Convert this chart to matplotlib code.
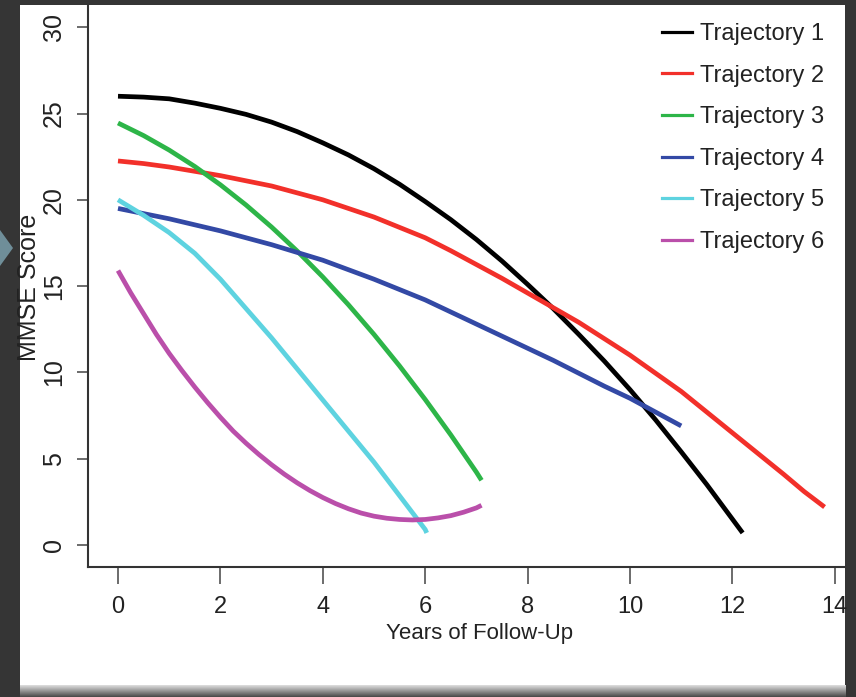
import matplotlib
matplotlib.use("Agg")
import matplotlib.pyplot as plt
import numpy as np
from matplotlib.patches import Rectangle, Polygon

# values
traj1_x = [0, 0.5, 1, 1.5, 2, 2.5, 3, 3.5, 4, 4.5, 5, 5.5, 6, 6.5, 7, 7.5, 8, 8.5, 9, 9.5, 10, 10.5, 11, 11.5, 12, 12.2]
traj1_y = [26.0, 25.95, 25.85, 25.6, 25.3, 24.95, 24.5, 23.95, 23.3, 22.6, 21.8, 20.9, 19.9, 18.85, 17.7, 16.45,
           15.1, 13.7, 12.2, 10.65, 9.0, 7.25, 5.4, 3.5, 1.5, 0.7]

traj2_x = [0, 0.5, 1, 1.5, 2, 2.5, 3, 3.5, 4, 4.5, 5, 5.5, 6, 6.5, 7, 7.5, 8, 8.5, 9, 9.5, 10, 10.5, 11,
           11.5, 12, 12.5, 13, 13.4, 13.8]
traj2_y = [22.25, 22.1, 21.9, 21.65, 21.4, 21.1, 20.8, 20.4, 20.0, 19.5, 19.0, 18.4, 17.8, 17.05, 16.25, 15.45,
           14.6, 13.75, 12.9, 11.95, 11.0, 9.95, 8.9, 7.7, 6.5, 5.3, 4.1, 3.1, 2.2]

traj3_x = [0, 0.5, 1, 1.5, 2, 2.5, 3, 3.5, 4, 4.5, 5, 5.5, 6, 6.5, 7, 7.1]
traj3_y = [24.45, 23.72, 22.88, 21.93, 20.87, 19.7, 18.42, 17.03, 15.53, 13.92, 12.2, 10.37, 8.43, 6.38, 4.22, 3.75]

traj4_x = [0, 0.5, 1, 1.5, 2, 2.5, 3, 3.5, 4, 4.5, 5, 5.5, 6, 6.5, 7, 7.5, 8, 8.5, 9, 9.5, 10, 10.5, 11]
traj4_y = [19.5, 19.2, 18.9, 18.55, 18.2, 17.8, 17.4, 16.95, 16.5, 15.95, 15.4, 14.8, 14.2, 13.5, 12.8, 12.1,
           11.4, 10.7, 9.95, 9.2, 8.5, 7.7, 6.9]

traj5_x = [0, 0.5, 1, 1.5, 2, 2.5, 3, 3.5, 4, 4.5, 5, 5.5, 6, 6.03]
traj5_y = [20.0, 19.1, 18.1, 16.9, 15.4, 13.7, 12.0, 10.2, 8.4, 6.6, 4.8, 2.85, 0.9, 0.7]

traj6_x = [0, 0.25, 0.5, 0.75, 1, 1.25, 1.5, 1.75, 2, 2.25, 2.5, 2.75, 3, 3.25, 3.5, 3.75, 4, 4.25, 4.5, 4.75,
           5, 5.25, 5.5, 5.75, 6, 6.25, 6.5, 6.75, 7, 7.1]
traj6_y = [15.9, 14.6, 13.4, 12.2, 11.1, 10.1, 9.15, 8.25, 7.4, 6.6, 5.9, 5.25, 4.65, 4.1, 3.6, 3.15, 2.75, 2.4,
           2.1, 1.85, 1.67, 1.55, 1.48, 1.45, 1.48, 1.57, 1.7, 1.9, 2.15, 2.3]

labels = ["Trajectory 1", "Trajectory 2", "Trajectory 3", "Trajectory 4", "Trajectory 5", "Trajectory 6"]
colors = ["#000000", "#F2302A", "#2DB548", "#3349A5", "#5ED3E0", "#BA4FAA"]

x_ticks = [0, 2, 4, 6, 8, 10, 12, 14]
y_ticks = [0, 5, 10, 15, 20, 25, 30]

W, H = 856, 697
FONT = ["Liberation Sans", "DejaVu Sans"]
TXT = "#222222"


def px(x, y):
    """Pixel position (from top-left) to figure fraction."""
    return x / W, 1 - y / H


fig = plt.figure(figsize=(W / 100, H / 100), dpi=100, facecolor="#353535")

# white panel, bottom shading and the little arrow on the left
fig.patches.append(Rectangle(px(20, 685), 825 / W, 680 / H, transform=fig.transFigure,
                             facecolor="white", edgecolor="none", zorder=-5))
grad_ax = fig.add_axes([20 / W, 0, 826 / W, 12 / H], zorder=-4)
grad_ax.imshow(np.linspace(0.85, 0.3, 12).reshape(-1, 1), cmap="gray", vmin=0, vmax=1,
               aspect="auto", extent=(0, 1, 0, 1))
grad_ax.axis("off")
fig.patches.append(Polygon([px(0, 230), px(13, 248), px(0, 266)], closed=True, transform=fig.transFigure,
                           facecolor="#6f8e99", edgecolor="none", zorder=-3))

left, right, top, bottom = 88, 845, 5, 567
ax = fig.add_axes([left / W, 1 - bottom / H, (right - left) / W, (bottom - top) / H])
ax.patch.set_alpha(0)

series = [(traj1_x, traj1_y), (traj2_x, traj2_y), (traj3_x, traj3_y),
          (traj4_x, traj4_y), (traj5_x, traj5_y), (traj6_x, traj6_y)]
handles = []
for (xs, ys), color, label in zip(series, colors, labels):
    ax.plot(xs, ys, color=color, lw=3.4, solid_capstyle="butt", solid_joinstyle="round", label=label)
    handles.append(plt.Line2D([], [], color=color, lw=2.3, label=label))

# pixel mapping: x 0 -> 118, 51.2 px/year ; y 0 -> 545, 17.26 px/unit
ax.set_xlim((left - 118) / 51.2, (right - 118) / 51.2)
ax.set_ylim((545 - bottom) / 17.26, (545 - top) / 17.26)

for side in ["top", "right"]:
    ax.spines[side].set_visible(False)
for side in ["left", "bottom"]:
    ax.spines[side].set_color("#333333")
    ax.spines[side].set_linewidth(1.5)

ax.set_xticks(x_ticks)
ax.set_yticks(y_ticks)
ax.tick_params(axis="x", length=12, width=1.1, color="#444444", pad=9, labelsize=17, labelcolor=TXT)
ax.tick_params(axis="y", length=8, width=1.1, color="#444444", pad=8, labelsize=18, labelcolor=TXT)
for lab in ax.get_xticklabels() + ax.get_yticklabels():
    lab.set_family(FONT)
for lab in ax.get_yticklabels():
    lab.set_rotation(90)
    lab.set_va("center")

fig.text(*px(480, 634), "Years of Follow-Up", ha="center", va="center", fontsize=16,
         family=FONT, color=TXT)
fig.text(*px(29, 287), "MMSE Score", ha="center", va="center", rotation=90, fontsize=18,
         family=FONT, color=TXT)

ax.legend(handles=handles, loc="upper left", bbox_to_anchor=px(662, 23), bbox_transform=fig.transFigure,
          frameon=False, borderpad=0, borderaxespad=0, handlelength=1.25, handletextpad=0.35,
          labelspacing=0.83, prop={"family": FONT, "size": 17}, labelcolor=TXT)

fig.savefig("out.png", dpi=100, facecolor=fig.get_facecolor())
